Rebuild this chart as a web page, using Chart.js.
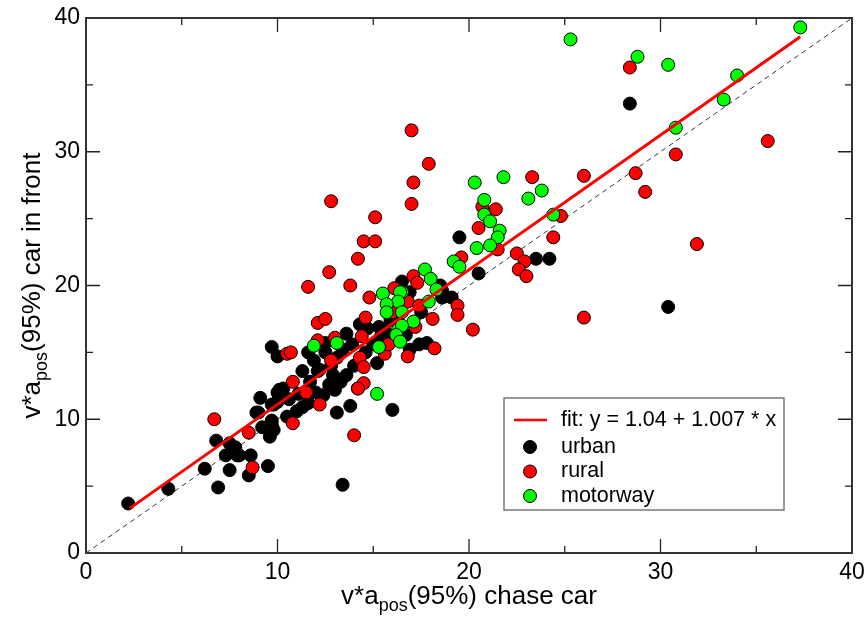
<!DOCTYPE html>
<html>
<head>
<meta charset="utf-8">
<script src="https://cdn.jsdelivr.net/npm/chart.js@4/dist/chart.umd.min.js"></script>
<style>
  html, body { margin: 0; padding: 0; background: #fff; }
</style>
</head>
<body>
<canvas id="scatterChart" width="868" height="619"></canvas>
<script>
// --- data: [x, y] pairs ---
const urban = [
  [2.2,3.7],[4.3,4.8],[6.9,4.9],[6.2,6.3],[7.5,6.2],[8.5,5.8],[9.5,6.5],[8.6,7.3],[7.3,7.3],
  [7.7,7.9],[7.9,7.3],[6.8,8.4],[7.5,8.2],[7.8,7.9],[8.0,7.3],[9.1,11.6],[8.9,10.5],[9.2,9.4],
  [9.7,9.6],[9.8,11.1],[10.0,12.0],[9.7,15.4],[10.0,14.7],[10.1,12.1],[9.7,11.1],[9.0,10.5],
  [9.7,9.9],[9.8,9.2],[9.6,8.7],[11.6,15.0],[11.9,14.4],[12.5,15.7],[11.3,13.6],[12.1,13.6],
  [10.1,12.2],[10.0,11.3],[10.3,12.3],[11.7,12.8],[12.7,12.6],[14.2,12.3],[13.8,11.0],[13.1,10.5],
  [16.0,10.7],[13.4,5.1],[14.3,17.1],[14.7,16.8],[13.6,16.4],[13.4,15.2],[12.5,15.0],[13.9,15.6],
  [12.2,13.7],[13.6,13.3],[12.9,13.3],[15.2,14.2],[11.1,11.9],[10.6,11.5],[11.6,11.2],[12.0,12.0],
  [12.4,11.8],[13.0,12.2],[13.3,12.8],[12.8,14.0],[13.1,14.6],[14.0,14.0],[14.6,15.0],[15.0,15.6],
  [15.4,16.2],[11.0,10.6],[10.5,10.2],[11.3,10.9],[16.5,20.3],[16.8,19.4],[16.9,19.5],[18.5,20.0],
  [18.6,19.6],[18.6,19.1],[19.1,19.1],[17.4,15.6],[17.8,15.7],[16.9,15.2],[19.5,23.6],[20.5,20.9],
  [23.5,22.0],[24.2,22.0],[28.4,33.6],[30.4,18.4],[15.9,17.4],[16.3,17.8],[15.6,16.6],[16.0,16.1],
  [17.5,18.0],[16.7,16.3],[15.3,16.9]
];
const rural = [
  [8.7,6.4],[6.7,10.0],[8.5,9.0],[10.5,14.9],[10.7,15.0],[10.8,12.8],[11.5,12.0],[10.8,9.7],
  [12.2,11.1],[12.1,17.2],[12.5,17.5],[12.1,15.9],[13.0,16.1],[12.8,14.4],[14.3,14.6],[14.5,13.9],
  [14.5,12.7],[14.2,12.3],[14.0,8.8],[11.6,19.9],[13.8,20.0],[14.8,19.1],[14.6,17.6],[14.4,16.2],
  [12.7,21.0],[14.2,22.0],[14.5,23.3],[15.1,23.3],[15.1,25.1],[12.8,26.3],[17.0,26.1],[17.1,27.7],
  [17.9,29.1],[17.0,31.6],[16.1,19.8],[17.1,20.7],[17.3,20.2],[16.8,18.8],[17.4,18.5],[16.0,18.0],
  [17.2,16.9],[18.1,17.5],[18.2,15.3],[16.8,14.7],[15.6,14.9],[15.8,15.6],[19.4,18.5],[19.4,17.8],
  [19.6,22.1],[20.2,16.7],[20.7,25.9],[21.4,25.7],[20.5,24.3],[21.5,22.7],[22.5,22.4],[22.9,21.8],
  [22.6,21.2],[23.0,20.7],[23.3,28.1],[24.8,25.2],[24.4,23.6],[26.0,28.2],[26.0,17.6],[28.4,36.3],
  [28.7,28.4],[29.2,27.0],[30.8,29.8],[35.6,30.8],[31.9,23.1]
];
const motorway = [
  [37.3,39.3],[25.3,38.4],[28.8,37.1],[30.4,36.5],[34.0,35.7],[33.3,33.9],[30.8,31.8],[21.8,28.1],
  [20.3,27.7],[23.8,27.1],[23.1,26.5],[20.8,26.4],[20.8,25.3],[21.1,24.8],[21.6,24.1],[21.5,23.6],
  [20.4,22.8],[21.1,23.0],[24.4,25.3],[19.2,21.8],[19.5,21.4],[17.7,21.2],[18.0,20.5],[18.3,19.7],
  [17.9,18.8],[16.5,19.5],[15.5,19.4],[16.4,19.5],[16.3,18.8],[15.7,18.6],[15.7,18.0],[16.5,18.0],
  [17.1,17.3],[16.3,16.7],[16.5,17.0],[16.2,16.3],[16.4,15.8],[15.3,15.4],[15.2,11.9],[11.9,15.5],
  [13.1,15.7]
];

// linear fit shown in the legend
const fitA = 1.04;
const fitB = 1.007;
const fitXRange = [2.3, 37.3];

const axisMin = 0, axisMax = 40;
const majorStep = 10, minorStep = 5;

const FONT = '"Liberation Sans", Arial, Helvetica, sans-serif';

const toPts = arr => arr.map(p => ({ x: p[0], y: p[1] }));
const fitLine = fitXRange.map(x => ({ x: x, y: fitA + fitB * x }));

// --- frame, inward ticks, axis titles and legend ---
const decorations = {
  id: 'decorations',
  afterDraw(chart) {
    const { ctx, chartArea: a, scales } = chart;
    const xs = scales.x, ys = scales.y;
    ctx.save();

    // ticks on all four sides, pointing in
    ctx.strokeStyle = '#222';
    ctx.lineWidth = 1.3;
    for (let v = axisMin; v <= axisMax; v += minorStep) {
      const len = v % majorStep === 0 ? 14 : 7;
      const px = xs.getPixelForValue(v);
      const py = ys.getPixelForValue(v);
      ctx.beginPath();
      ctx.moveTo(px, a.bottom); ctx.lineTo(px, a.bottom - len);
      ctx.moveTo(px, a.top); ctx.lineTo(px, a.top + len);
      ctx.moveTo(a.left, py); ctx.lineTo(a.left + len, py);
      ctx.moveTo(a.right, py); ctx.lineTo(a.right - len, py);
      ctx.stroke();
    }

    // frame
    ctx.lineWidth = 2;
    ctx.strokeStyle = '#333';
    ctx.strokeRect(a.left, a.top, a.right - a.left, a.bottom - a.top);

    // axis titles with subscript
    const xTitle = [['v*a', false], ['pos', true], ['(95%) chase car', false]];
    const yTitle = [['v*a', false], ['pos', true], ['(95%) car in front', false]];
    drawSubText(ctx, xTitle, (a.left + a.right) / 2, 604);
    ctx.save();
    ctx.translate(40, (a.top + a.bottom) / 2);
    ctx.rotate(-Math.PI / 2);
    drawSubText(ctx, yTitle, 0, 0);
    ctx.restore();

    // legend box
    const lx = 504, ly = 398, lw = 280, lh = 112;
    ctx.fillStyle = '#fff';
    ctx.fillRect(lx, ly, lw, lh);
    ctx.strokeStyle = '#777';
    ctx.lineWidth = 1.5;
    ctx.strokeRect(lx, ly, lw, lh);

    ctx.font = '21.5px ' + FONT;
    ctx.textBaseline = 'middle';
    ctx.textAlign = 'left';
    ctx.fillStyle = '#000';

    ctx.strokeStyle = '#ff0000';
    ctx.lineWidth = 2.5;
    ctx.beginPath();
    ctx.moveTo(514, 420); ctx.lineTo(547, 420);
    ctx.stroke();
    ctx.fillText(chart.data.datasets[0].label, 561, 420);

    const rows = [1, 2, 3];
    rows.forEach((di, i) => {
      const ds = chart.data.datasets[di];
      const cy = 447 + i * 24.5;
      ctx.beginPath();
      ctx.arc(530, cy, 6.5, 0, Math.PI * 2);
      ctx.fillStyle = ds.backgroundColor;
      ctx.fill();
      ctx.strokeStyle = '#000';
      ctx.lineWidth = 1;
      ctx.stroke();
      ctx.fillStyle = '#000';
      ctx.fillText(ds.label, 561, cy);
    });

    ctx.restore();
  }
};

function drawSubText(ctx, parts, cx, baseY) {
  const big = '26px ' + FONT, small = '18px ' + FONT;
  let total = 0;
  parts.forEach(([t, sub]) => { ctx.font = sub ? small : big; total += ctx.measureText(t).width; });
  let x = cx - total / 2;
  ctx.fillStyle = '#000';
  ctx.textAlign = 'left';
  ctx.textBaseline = 'alphabetic';
  parts.forEach(([t, sub]) => {
    ctx.font = sub ? small : big;
    ctx.fillText(t, x, sub ? baseY + 7 : baseY);
    x += ctx.measureText(t).width;
  });
}

new Chart(document.getElementById('scatterChart'), {
  type: 'scatter',
  data: {
    datasets: [
      {
        type: 'line',
        label: 'fit: y = 1.04 + 1.007 * x',
        data: fitLine,
        borderColor: '#ff0000',
        borderWidth: 3,
        pointRadius: 0,
        order: 0
      },
      {
        label: 'urban',
        data: toPts(urban),
        backgroundColor: '#000000',
        borderColor: '#000000',
        borderWidth: 1,
        pointRadius: 6.5,
        order: 3
      },
      {
        label: 'rural',
        data: toPts(rural),
        backgroundColor: '#ff0000',
        borderColor: '#000000',
        borderWidth: 1,
        pointRadius: 6.5,
        order: 2
      },
      {
        label: 'motorway',
        data: toPts(motorway),
        backgroundColor: '#00ff00',
        borderColor: '#000000',
        borderWidth: 1,
        pointRadius: 6.5,
        order: 1
      },
      {
        type: 'line',
        label: 'y = x',
        data: [{ x: axisMin, y: axisMin }, { x: axisMax, y: axisMax }],
        borderColor: '#333',
        borderWidth: 1,
        borderDash: [5, 4],
        pointRadius: 0,
        order: 10
      }
    ]
  },
  options: {
    responsive: false,
    animation: false,
    layout: { padding: { left: 0, right: 16, top: 18, bottom: 0 } },
    plugins: {
      legend: { display: false },
      tooltip: { enabled: false }
    },
    scales: {
      x: {
        type: 'linear',
        min: axisMin, max: axisMax,
        grid: { display: false },
        border: { display: false },
        afterFit: s => { s.height = 66; },
        ticks: {
          stepSize: majorStep,
          padding: -2,
          color: '#000',
          font: { family: FONT, size: 23 }
        }
      },
      y: {
        type: 'linear',
        min: axisMin, max: axisMax,
        grid: { display: false },
        border: { display: false },
        afterFit: s => { s.width = 86; },
        ticks: {
          stepSize: majorStep,
          padding: -2,
          color: '#000',
          font: { family: FONT, size: 23 }
        }
      }
    }
  },
  plugins: [decorations]
});
</script>
</body>
</html>
